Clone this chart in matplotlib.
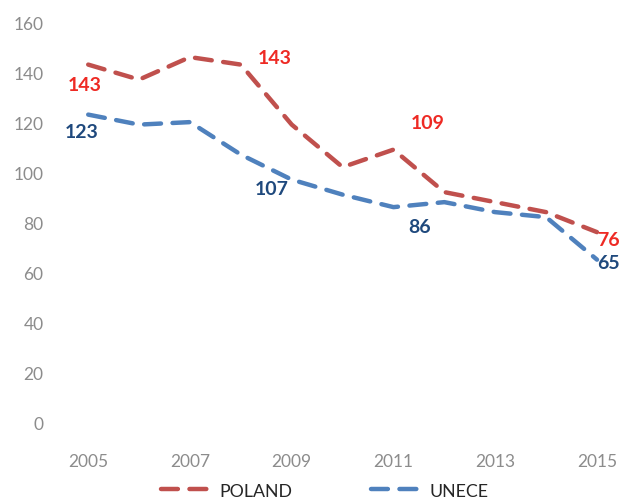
import matplotlib
matplotlib.use("Agg")
import matplotlib.pyplot as plt

# Data
years = [2005, 2006, 2007, 2008, 2009, 2010, 2011, 2012, 2013, 2014, 2015]
poland = [143, 137, 146, 143, 119, 102, 109, 92, 88, 84, 76]
unece = [123, 119, 120, 107, 97, 91, 86, 88, 84, 82, 65]
tick_years = [2005, 2007, 2009, 2011, 2013, 2015]
y_ticks = [0, 20, 40, 60, 80, 100, 120, 140, 160]

# points that carry a value label: (index, dx px, dy px, ha)
poland_labels = [(0, -4, -20, "center"), (3, 17, 7, "left"), (6, 17, 27, "left"), (10, 0, -7, "left")]
unece_labels = [(0, -7, -17, "center"), (3, 14, -34, "left"), (6, 15, -19, "left"), (10, 0, -3, "left")]

plt.rcParams['font.family'] = ['Lato', 'DejaVu Sans']

red_line = '#C0504D'
blue_line = '#4F81BD'
red_text = '#EE2A24'
blue_text = '#1F497D'
grey = '#8C8C8C'

fig = plt.figure(figsize=(6.21, 5.02), dpi=100)
ax = fig.add_axes([0.097, 0.157, 0.893, 0.797])

ax.plot(years, poland, color=red_line, lw=3.2, dashes=(3.8, 2.6),
        dash_capstyle='round', label='POLAND')
ax.plot(years, unece, color=blue_line, lw=3.2, dashes=(3.8, 2.6),
        dash_capstyle='round', label='UNECE')

for i, dx, dy, ha in poland_labels:
    ax.annotate(str(poland[i]), (years[i], poland[i]), xytext=(dx * 0.72, dy * 0.72),
                textcoords='offset points', ha=ha, va='center', color=red_text,
                fontsize=14, fontweight='bold')
for i, dx, dy, ha in unece_labels:
    ax.annotate(str(unece[i]), (years[i], unece[i]), xytext=(dx * 0.72, dy * 0.72),
                textcoords='offset points', ha=ha, va='center', color=blue_text,
                fontsize=14, fontweight='bold')

ax.set_xlim(2004.45, 2015.35)
ax.set_ylim(0, 160)
ax.set_xticks(tick_years)
ax.set_yticks(y_ticks)
ax.tick_params(length=0, colors=grey, labelsize=12.5)
ax.tick_params(axis='y', pad=12)
ax.tick_params(axis='x', pad=22)
for s in ax.spines.values():
    s.set_visible(False)

leg = ax.legend(loc='upper center', bbox_to_anchor=(0.477, -0.111), ncol=2, frameon=False,
                fontsize=12.8, handlelength=2.7, columnspacing=4.4, handletextpad=0.6)
for t in leg.get_texts():
    t.set_color('#262626')

fig.savefig('out.png', dpi=100)
